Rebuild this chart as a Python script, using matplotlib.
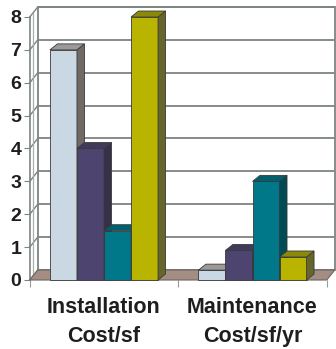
import matplotlib
matplotlib.use("Agg")
import matplotlib.pyplot as plt
from matplotlib.patches import Polygon, Rectangle
import numpy as np

plt.rcParams['font.family'] = ['Liberation Sans', 'DejaVu Sans']

categories = ["Installation\nCost/sf", "Maintenance\nCost/sf/yr"]
series_a = [7.0, 0.3]   # light blue
series_b = [4.0, 0.9]   # purple
series_c = [1.5, 3.0]   # teal
series_d = [8.0, 0.7]   # olive yellow
yticks = [0, 1, 2, 3, 4, 5, 6, 7, 8]

series = [series_a, series_b, series_c, series_d]
front_cols = ['#c9d8e2', '#4e4470', '#00788a', '#b8b400']
side_cols = ['#6f6a66', '#363049', '#004b56', '#67662a']
top_cols = ['#9b9a98', '#413a5d', '#00606d', '#8c8908']

fig = plt.figure(figsize=(3.36, 3.49), dpi=100)
W, H = 336, 349
x0px, x1px = 29.75, 326.75
y0px, y8px = 280, 17
ax = fig.add_axes([x0px / W, (H - y0px) / H, (x1px - x0px) / W, (y0px - y8px) / H])
ax.set_xlim(-0.5, 1.5)
ax.set_ylim(0, 8)
for s in ax.spines.values():
    s.set_visible(False)

# depth offsets (data units)
dxw, dyw = 8 / 148.5, 10 / 32.875
dxb, dyb = 7.5 / 148.5, 6 / 32.875
bw = 0.182

grid_col = '#7d8484'
# back wall
ax.add_patch(Rectangle((-0.5 + dxw, dyw), 2.0, 8, facecolor='white', edgecolor=grid_col,
                       lw=1.3, clip_on=False, zorder=1))
for v in yticks:
    ax.plot([-0.5 + dxw, 1.5 + dxw], [v + dyw, v + dyw], color=grid_col, lw=1.3,
            clip_on=False, zorder=2, solid_capstyle='butt')
    ax.plot([-0.5, -0.5 + dxw], [v, v + dyw], color=grid_col, lw=1.0,
            clip_on=False, zorder=2)
# left wall edges
ax.plot([-0.5, -0.5], [0, 8], color=grid_col, lw=1.2, clip_on=False, zorder=2)
ax.plot([-0.5 + dxw * 0.35, -0.5 + dxw * 0.35], [dyw * 0.35, 8 + dyw * 0.35],
        color='#a9aeae', lw=0.9, clip_on=False, zorder=2)

# floor
ax.add_patch(Polygon([(-0.5, 0), (1.5, 0), (1.5 + dxw, dyw), (-0.5 + dxw, dyw)],
                     closed=True, facecolor='#a48e84', edgecolor='#6e6460', lw=0.8,
                     clip_on=False, zorder=3))

z = 4
for g in range(len(categories)):
    for i, (vals, fc, sc, tc) in enumerate(zip(series, front_cols, side_cols, top_cols)):
        v = vals[g]
        left = g - 2 * bw + i * bw
        ax.bar(left, v, width=bw, align='edge', color=fc, edgecolor='#3a3a3a',
               lw=0.6, zorder=z, clip_on=False)
        ax.add_patch(Polygon([(left + bw, 0), (left + bw + dxb, dyb), (left + bw + dxb, v + dyb),
                              (left + bw, v)], closed=True, facecolor=sc, edgecolor='#3a3a3a',
                             lw=0.6, zorder=z, clip_on=False))
        ax.add_patch(Polygon([(left, v), (left + dxb, v + dyb), (left + bw + dxb, v + dyb),
                              (left + bw, v)], closed=True, facecolor=tc, edgecolor='#3a3a3a',
                             lw=0.6, zorder=z, clip_on=False))
        z += 1

ax.set_yticks(yticks)
ax.set_yticklabels([str(v) for v in yticks], fontsize=14, fontweight='bold', color='#1e1e1e')
ax.tick_params(axis='y', length=4, color=grid_col, pad=2)
ax.set_xticks([0, 1])
ax.set_xticklabels(categories, fontsize=15.5, fontweight='bold', color='#1e1e1e',
                   linespacing=1.5)
ax.tick_params(axis='x', length=0, pad=12)
ax.set_xticks([-0.5, 0.5, 1.5], minor=True)
ax.tick_params(axis='x', which='minor', length=5, color='#9a9a9a', width=0.8)

fig.savefig('out.png', dpi=100)
